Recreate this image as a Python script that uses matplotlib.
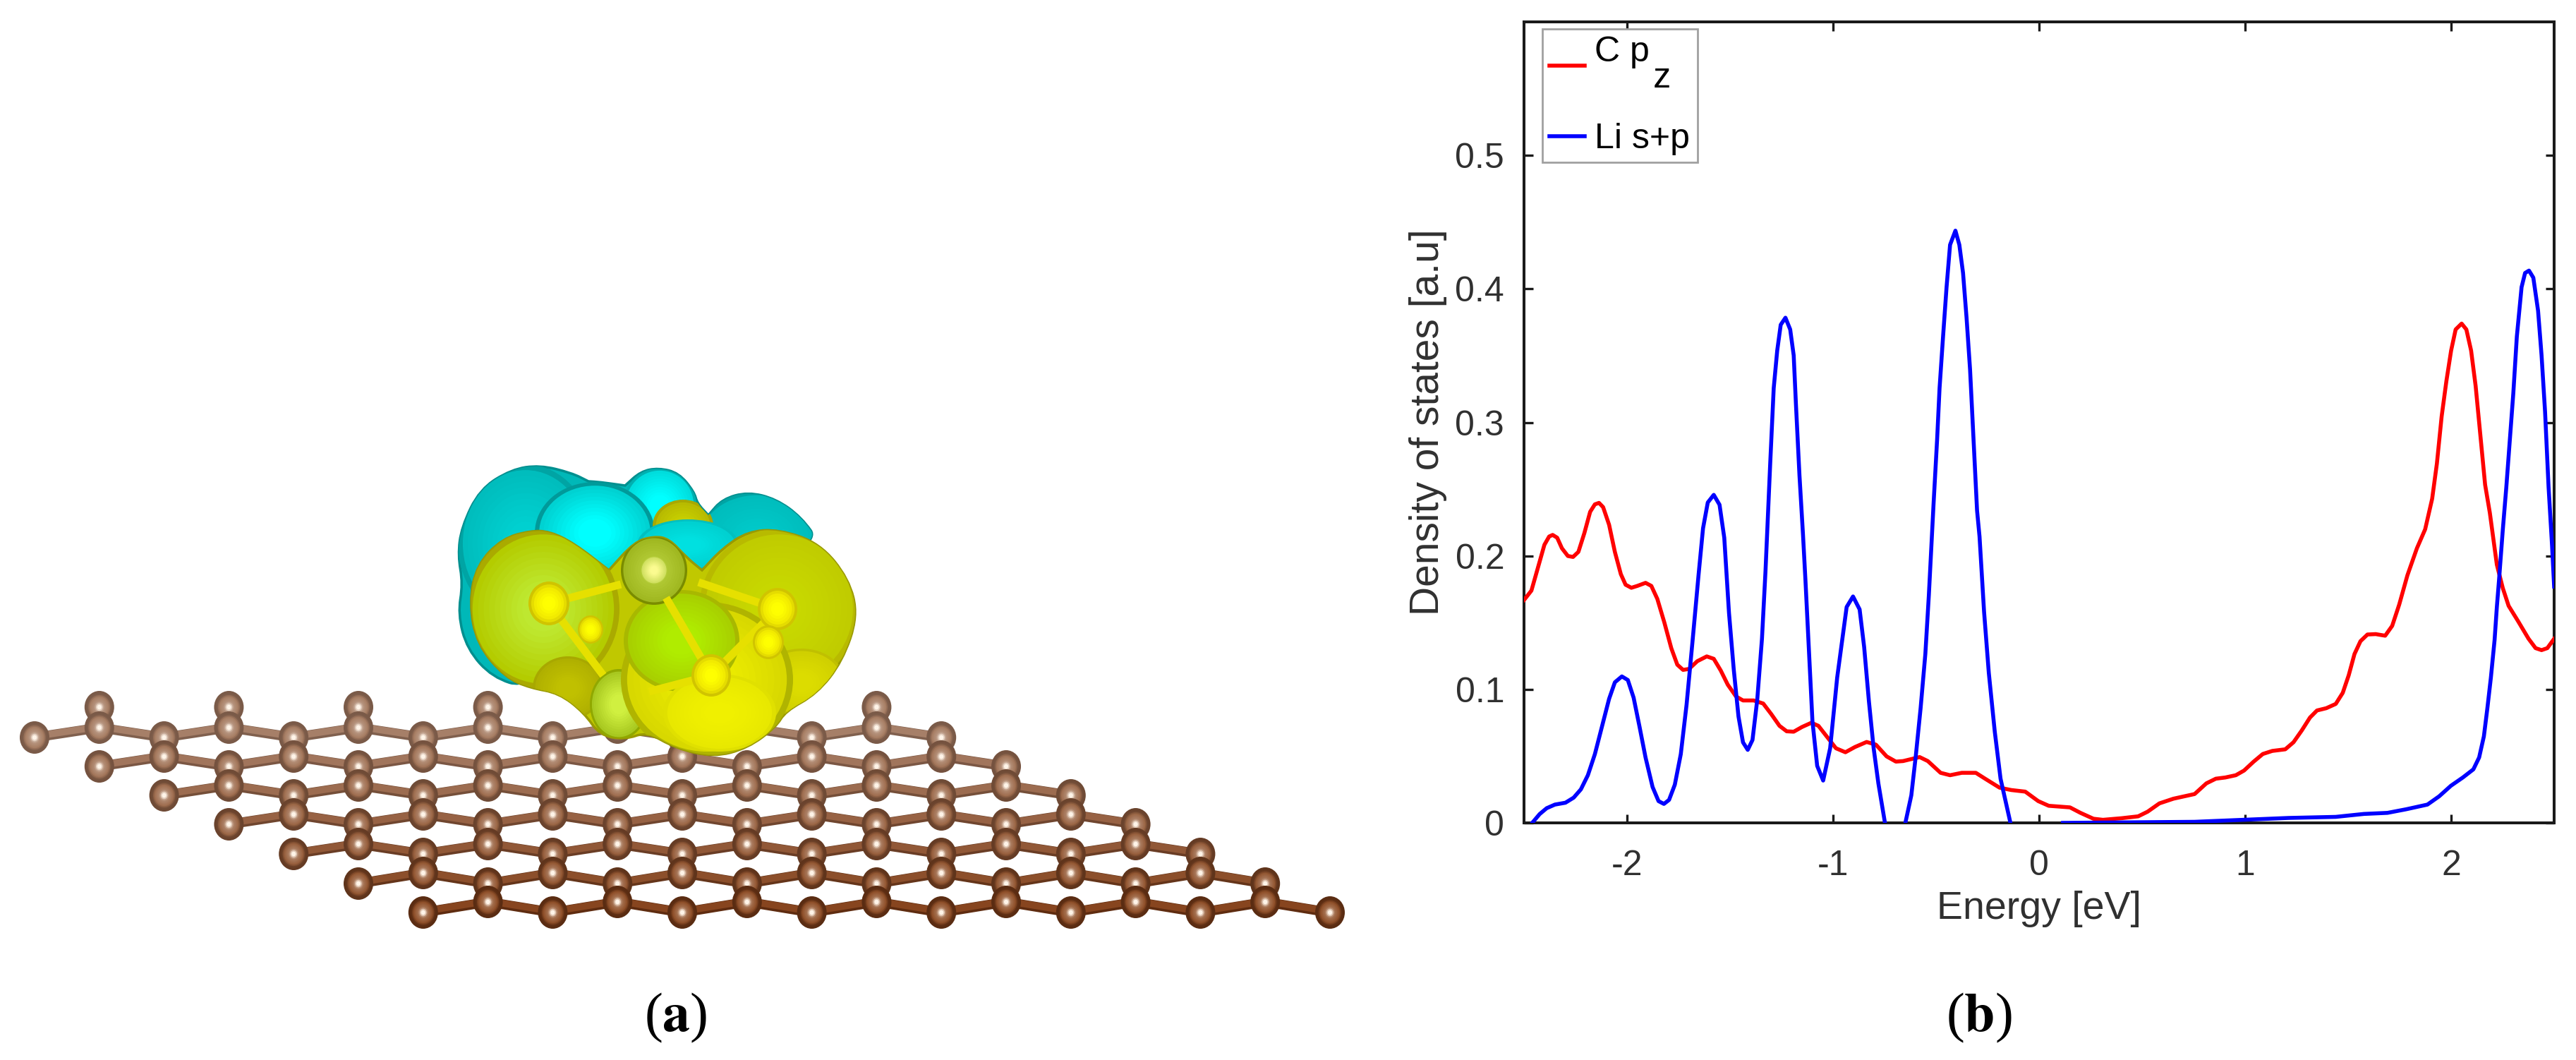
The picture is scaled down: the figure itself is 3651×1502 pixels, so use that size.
import matplotlib
matplotlib.use("Agg")
import matplotlib.pyplot as plt
from matplotlib.colors import to_rgb
from matplotlib.patches import Ellipse, PathPatch
from matplotlib.path import Path
import numpy as np

W, H = 3651, 1502

# density of states curves
c_pz_x = [-2.5, -2.464, -2.43, -2.401, -2.378, -2.361, -2.339, -2.316, -2.287, -2.262, -2.236, -2.207, -2.179,
          -2.156, -2.136, -2.116, -2.087, -2.059, -2.03, -2.007, -1.979, -1.95, -1.91, -1.882, -1.853, -1.819,
          -1.785, -1.756, -1.728, -1.699, -1.659, -1.613, -1.579, -1.545, -1.511, -1.471, -1.437, -1.385, -1.339,
          -1.3, -1.26, -1.225, -1.191, -1.151, -1.105, -1.071, -1.031, -0.986, -0.94, -0.894, -0.837, -0.792,
          -0.74, -0.695, -0.66, -0.58, -0.54, -0.478, -0.432, -0.375, -0.307, -0.261, -0.192, -0.135, -0.067,
          -0.004, 0.047, 0.15, 0.201, 0.264, 0.31, 0.401, 0.481, 0.527, 0.584, 0.652, 0.755, 0.812, 0.858, 0.904,
          0.955, 0.995, 1.041, 1.086, 1.132, 1.195, 1.235, 1.275, 1.315, 1.349, 1.394, 1.44, 1.474, 1.503, 1.531,
          1.56, 1.594, 1.634, 1.68, 1.714, 1.748, 1.788, 1.834, 1.874, 1.908, 1.931, 1.954, 1.977, 2.0, 2.022,
          2.051, 2.074, 2.097, 2.119, 2.142, 2.165, 2.188, 2.222, 2.251, 2.279, 2.325, 2.376, 2.41, 2.439, 2.467,
          2.5]
c_pz_y = [0.1669, 0.174, 0.1925, 0.2083, 0.2145, 0.2157, 0.2136, 0.2057, 0.1999, 0.1992, 0.203, 0.2171, 0.233,
          0.2386, 0.2397, 0.2365, 0.2233, 0.203, 0.1863, 0.1784, 0.1761, 0.1775, 0.1798, 0.1775, 0.1678, 0.1502,
          0.1308, 0.1185, 0.1146, 0.1153, 0.1211, 0.1247, 0.1229, 0.1141, 0.1035, 0.0947, 0.0917, 0.0917, 0.0894,
          0.0815, 0.0727, 0.0686, 0.0683, 0.0718, 0.075, 0.0727, 0.0648, 0.0559, 0.0529, 0.0568, 0.0606, 0.0586,
          0.0498, 0.0459, 0.0463, 0.0493, 0.0463, 0.0375, 0.0357, 0.0375, 0.0375, 0.033, 0.0264, 0.0246, 0.0234,
          0.0163, 0.0128, 0.0116, 0.0075, 0.0031, 0.0023, 0.0035, 0.0049, 0.0084, 0.0146, 0.0181, 0.0216, 0.0296,
          0.0331, 0.034, 0.0357, 0.0392, 0.0458, 0.0516, 0.0539, 0.0551, 0.0604, 0.0692, 0.0789, 0.0842, 0.0859,
          0.0891, 0.0974, 0.1106, 0.1265, 0.1361, 0.1411, 0.1414, 0.1402, 0.1476, 0.1635, 0.1855, 0.2057, 0.2199,
          0.2428, 0.2692, 0.3044, 0.3309, 0.3538, 0.3696, 0.374, 0.3696, 0.3538, 0.3273, 0.2903, 0.2533, 0.2322,
          0.1934, 0.1758, 0.1626, 0.1511, 0.1379, 0.1309, 0.1294, 0.1309, 0.1379]

li_sp_x = [-2.458, -2.424, -2.39, -2.35, -2.299, -2.259, -2.224, -2.19, -2.156, -2.122, -2.087, -2.059, -2.025,
           -1.996, -1.968, -1.939, -1.91, -1.876, -1.847, -1.821, -1.796, -1.768, -1.739, -1.711, -1.682, -1.653,
           -1.631, -1.608, -1.579, -1.551, -1.528, -1.505, -1.482, -1.459, -1.437, -1.414, -1.391, -1.368, -1.345,
           -1.328, -1.305, -1.288, -1.271, -1.254, -1.231, -1.208, -1.191, -1.18, -1.163, -1.146, -1.134, -1.117,
           -1.1, -1.077, -1.048, -1.014, -0.997, -0.98, -0.957, -0.934, -0.903, -0.871, -0.849, -0.826, -0.803,
           -0.78, -0.748, np.nan, -0.649, -0.62, -0.598, -0.575, -0.552, -0.535, -0.512, -0.495, -0.483, -0.466,
           -0.449, -0.432, -0.406, -0.387, -0.369, -0.352, -0.335, -0.318, -0.301, -0.289, -0.267, -0.244, -0.215,
           -0.187, -0.139, np.nan, 0.116, 0.755, 1.212, 1.44, 1.577, 1.691, 1.782, 1.885, 1.942, 1.999, 2.057,
           2.108, 2.136, 2.159, 2.176, 2.193, 2.211, 2.222, 2.233, 2.251, 2.268, 2.285, 2.302, 2.319, 2.342,
           2.359, 2.378, 2.399, 2.422, 2.439, 2.456, 2.473, 2.49, 2.5]
li_sp_y = [0.0004, 0.0066, 0.011, 0.0137, 0.0151, 0.0189, 0.0251, 0.0357, 0.0515, 0.0718, 0.0929, 0.1053, 0.1097,
           0.107, 0.0938, 0.0718, 0.0489, 0.0269, 0.0163, 0.0142, 0.0172, 0.0286, 0.0515, 0.0885, 0.1361, 0.1854,
           0.2207, 0.24, 0.2457, 0.2383, 0.2136, 0.1572, 0.115, 0.0797, 0.0603, 0.0547, 0.0621, 0.0921, 0.1379,
           0.1882, 0.2692, 0.3256, 0.3538, 0.3731, 0.3784, 0.3696, 0.3502, 0.3132, 0.2604, 0.2163, 0.1819, 0.1291,
           0.0762, 0.0427, 0.0317, 0.056, 0.0824, 0.1088, 0.1353, 0.1617, 0.1696, 0.1599, 0.1317, 0.0912, 0.056,
           0.0296, 0.0, np.nan, 0.0, 0.0207, 0.0507, 0.0859, 0.1265, 0.1705, 0.2393, 0.2868, 0.3256, 0.3643,
           0.4013, 0.433, 0.4436, 0.433, 0.4119, 0.3784, 0.3397, 0.2868, 0.234, 0.2145, 0.1582, 0.1124, 0.0683,
           0.0331, 0.0, np.nan, 0.0, 0.0008, 0.0037, 0.0045, 0.0067, 0.0075, 0.0102, 0.0137, 0.0199, 0.0278, 0.034,
           0.0401, 0.049, 0.0648, 0.0859, 0.1088, 0.137, 0.1617, 0.1828, 0.2198, 0.2516, 0.2868, 0.3221, 0.3643,
           0.4013, 0.4119, 0.4137, 0.4084, 0.3837, 0.3502, 0.308, 0.2516, 0.2075, 0.177]

x_ticks = [-2, -1, 0, 1, 2]
x_tick_labels = ["-2", "-1", "0", "1", "2"]
y_ticks = [0, 0.1, 0.2, 0.3, 0.4, 0.5]
y_tick_labels = ["0", "0.1", "0.2", "0.3", "0.4", "0.5"]

# graphene sheet of panel (a), pixels of the picture
sheet_x0, sheet_dx = 49, 91.8
row_start = [0, 1, 2, 3, 4, 5, 6]
row_count = [15, 15, 15, 15, 15, 15, 15]
row_low_y = [1045, 1086, 1127, 1168, 1210, 1252, 1293]
row_high_y = [1031, 1072, 1113, 1154, 1196, 1237, 1278]
back_atoms_i = [1, 3, 5, 7, 9, 11, 13]
back_atoms_y = 1002

# isosurface outlines, notches listed twice to keep them tight
cyan_outline = [(649, 787), (656, 827), (649, 870), (662, 920), (698, 960), (747, 975), (850, 900), (1000, 850),
                (1162, 770), (1136, 733), (1100, 707), (1060, 697), (1024, 707), (1004, 730), (1004, 730), (988, 713),
                (984, 697), (962, 670), (933, 663), (908, 668), (886, 688), (886, 688), (850, 683), (834, 682),
                (834, 682), (810, 670), (765, 659), (725, 665), (680, 693), (654, 747)]
yellow_outline = [(752, 752), (712, 763), (676, 800), (665, 853), (676, 913), (716, 960), (752, 975), (792, 982),
                  (828, 1010), (850, 1042), (886, 1048), (917, 1037), (957, 1060), (1011, 1073), (1060, 1060),
                  (1100, 1030), (1113, 1008), (1158, 983), (1194, 937), (1216, 873), (1203, 820), (1162, 770),
                  (1104, 750), (1060, 753), (1024, 777), (995, 808), (995, 808), (973, 790), (948, 763), (926, 760),
                  (899, 768), (863, 808), (863, 808), (814, 770), (779, 753)]

# isosurface lobes (cx, cy, rx, ry, edge, body, centre)
cyan_lobes = [
    (745, 770, 96, 112, "#00a4a4", "#00bcbc", "#00d0d0"),
    (935, 716, 52, 53, "#00b0b0", "#00dcdc", "#00ffff"),
    (1073, 762, 85, 65, "#00a4a4", "#00bcbc", "#00c8c8"),
    (843, 755, 85, 72, "#009a9a", "#00d0d0", "#00ffff"),
    (975, 772, 72, 36, "#00c0c0", "#00d0d0", "#00e0e0"),
]
top_lobe = (968, 745, 43, 37, "#a8a800", "#b8bb00", "#c8d000")
yellow_lobes = [
    (770, 863, 108, 114, "#aaaa00", "#b4cc00", "#bee830"),
    (1104, 863, 113, 114, "#b8ba00", "#c0cc00", "#c8d800"),
    (1136, 967, 62, 48, "#c0c000", "#d0d000", "#dcdc00"),
    (805, 975, 50, 45, "#a8a800", "#b0b000", "#c0c000"),
    (877, 998, 41, 50, "#90a800", "#a8c820", "#d0f040"),
    (1002, 963, 122, 110, "#b0b400", "#d8d800", "#ecec00"),
    (966, 908, 82, 72, "#a8b800", "#a8d000", "#b0ec00"),
    (1020, 1010, 80, 55, "#e0e000", "#e8e800", "#f0f000"),
    (927, 808, 47, 49, "#7a8c00", "#a0b820", "#b4cc38"),
    (927, 808, 19, 20, "#b4cc38", "#d0e060", "#fbfb90"),
]
li_atoms = [(778, 855, 29, 31), (1102, 863, 28, 30), (1008, 957, 28, 30), (837, 892, 18, 20), (1089, 910, 22, 24)]
li_bonds = [(778, 855, 880, 828), (778, 855, 855, 957), (944, 847, 1008, 957), (1008, 957, 1102, 863),
            (1102, 863, 990, 825), (1008, 957, 920, 980)]


def shaded(ax, cx, cy, rx, ry, stops, z, n=12, clip=None):
    # stacked ellipses, stops = (radius fraction, colour) from outside to centre
    fr = [s[0] for s in stops][::-1]
    cols = np.array([to_rgb(s[1]) for s in stops])[::-1]
    for r in np.linspace(1, 0.06, n):
        col = [np.interp(r, fr, cols[:, k]) for k in range(3)]
        e = Ellipse((cx, cy), 2 * rx * r, 2 * ry * r, color=col, lw=0, zorder=z)
        ax.add_patch(e)
        if clip is not None:
            e.set_clip_path(clip)


def mix(a, b, t):
    a, b = np.array(to_rgb(a)), np.array(to_rgb(b))
    return tuple(a + (b - a) * t)


def atom(ax, x, y, t, z):
    body = mix("#a67c62", "#8f4f28", t)
    rim = mix("#7a5a48", "#5a2c12", t)
    stops = [(1, rim), (0.85, rim), (0.68, body), (0.35, mix(body, "#ffffff", 0.2)), (0.16, "#fff4e8")]
    shaded(ax, x, y, 21, 23, stops, z, 12)


def bond(ax, x0, y0, x1, y1, t, z):
    dark = mix("#80604e", "#5f2c10", t)
    light = mix("#a67f68", "#87451f", t)
    ax.plot([x0, x1], [y0, y1], color=dark, lw=10, solid_capstyle="butt", zorder=z)
    ax.plot([x0, x1], [y0 - 1.5, y1 - 1.5], color=light, lw=7, solid_capstyle="butt", zorder=z)


def outline_patch(ax, pts, face, edge, z):
    # closed quadratic path through the midpoints of the traced outline
    p = np.array(pts, dtype=float)
    nxt = np.roll(p, -1, axis=0)
    mid = (p + nxt) / 2
    verts = [mid[-1]]
    codes = [Path.MOVETO]
    for a, m in zip(p, mid):
        verts += [a, m]
        codes += [Path.CURVE3, Path.CURVE3]
    patch = PathPatch(Path(verts, codes), facecolor=face, edgecolor=edge, lw=2.5, zorder=z)
    ax.add_patch(patch)
    return patch


fig = plt.figure(figsize=(W / 100, H / 100), dpi=100, facecolor="white")
plt.rcParams["font.family"] = ["Liberation Sans", "DejaVu Sans"]
plt.rcParams["mathtext.fontset"] = "stix"

# panel (a)
ax0 = fig.add_axes([0, 0, 1, 1])
ax0.set_xlim(0, W)
ax0.set_ylim(H, 0)
ax0.axis("off")

z = 1
for i_back in back_atoms_i:
    x = sheet_x0 + sheet_dx * i_back
    bond(ax0, x, back_atoms_y, x, row_high_y[0], 0, z)
    atom(ax0, x, back_atoms_y, 0, z + 0.1)

for k in range(len(row_start)):
    t = k / 6
    z = 2 + k
    idx = list(range(row_start[k], row_start[k] + row_count[k]))
    ys = [row_low_y[k] if (i - row_start[k]) % 2 == 0 else row_high_y[k] for i in idx]
    xs = [sheet_x0 + sheet_dx * i for i in idx]
    for a in range(len(idx) - 1):
        bond(ax0, xs[a], ys[a], xs[a + 1], ys[a + 1], t, z)
    if k < 6:
        for a, i in enumerate(idx):
            if (i - row_start[k]) % 2 == 0 and i >= row_start[k + 1]:
                bond(ax0, xs[a], ys[a], xs[a], row_high_y[k + 1], t, z)
    for a in range(len(idx)):
        atom(ax0, xs[a], ys[a], t, z + 0.1)

cyan_patch = outline_patch(ax0, cyan_outline, "#00b8b8", "#008f8f", 20)
z = 21
for cx, cy, rx, ry, e, b, c in cyan_lobes:
    shaded(ax0, cx, cy, rx, ry, [(1, e), (0.95, b), (0.3, c)], z, 14, clip=cyan_patch)
    z += 1
cx, cy, rx, ry, e, b, c = top_lobe
shaded(ax0, cx, cy, rx, ry, [(1, e), (0.9, b), (0.3, c)], 24.5, 10, clip=cyan_patch)

yellow_patch = outline_patch(ax0, yellow_outline, "#c0c800", "#9a9a00", 30)
z = 31
for cx, cy, rx, ry, e, b, c in yellow_lobes:
    shaded(ax0, cx, cy, rx, ry, [(1, e), (0.93, b), (0.3, c)], z, 14, clip=yellow_patch)
    z += 1
for x0, y0, x1, y1 in li_bonds:
    ax0.plot([x0, x1], [y0, y1], color="#e6e000", lw=8, solid_capstyle="butt", zorder=45)
for x, y, rx, ry in li_atoms:
    shaded(ax0, x, y, rx, ry, [(1, "#d0c400"), (0.8, "#f0e800"), (0.3, "#ffff00")], 46, 8)

ax0.text(958, 1442, r"($\mathbf{a}$)", family="Liberation Serif", fontsize=56, ha="center", va="center", color="black")
ax0.text(2805, 1442, r"($\mathbf{b}$)", family="Liberation Serif", fontsize=56, ha="center", va="center", color="black")

# panel (b)
left, right, top, bottom = 2160, 3620, 31, 1166
ax = fig.add_axes([left / W, 1 - bottom / H, (right - left) / W, (bottom - top) / H])
ink = "#303030"
ax.plot(c_pz_x, c_pz_y, color="#ff0000", lw=4, zorder=3, label="C p\n      z")
ax.plot(li_sp_x, li_sp_y, color="#0000ff", lw=4, zorder=3.1, label="Li s+p")
ax.set_xlim(-2.5, 2.5)
ax.set_ylim(0, 0.6)
ax.set_xticks(x_ticks)
ax.set_xticklabels(x_tick_labels)
ax.set_yticks(y_ticks)
ax.set_yticklabels(y_tick_labels)
ax.tick_params(direction="in", top=True, right=True, length=9, width=2.4, labelsize=36, labelcolor=ink, color="#1a1a1a", pad=20)
ax.tick_params(axis="x", pad=27)
for s in ax.spines.values():
    s.set_linewidth(2.9)
    s.set_color("#1a1a1a")
ax.set_xlabel("Energy [eV]", fontsize=40, color=ink, labelpad=9)
ax.set_ylabel("Density of states [a.u]", fontsize=41, color=ink, labelpad=8)

leg = ax.legend(loc="upper left", bbox_to_anchor=(25.5 / (right - left), 1 - 10 / (bottom - top)), borderaxespad=0,
                fontsize=36, fancybox=False, edgecolor="#a0a0a0", framealpha=1, handlelength=1.0,
                handletextpad=0.3, borderpad=0.2, labelspacing=0.8, labelcolor="black")
leg.get_frame().set_linewidth(2)
leg.get_texts()[0].set_linespacing(0.75)

fig.savefig("out.png", dpi=100, facecolor="white")
